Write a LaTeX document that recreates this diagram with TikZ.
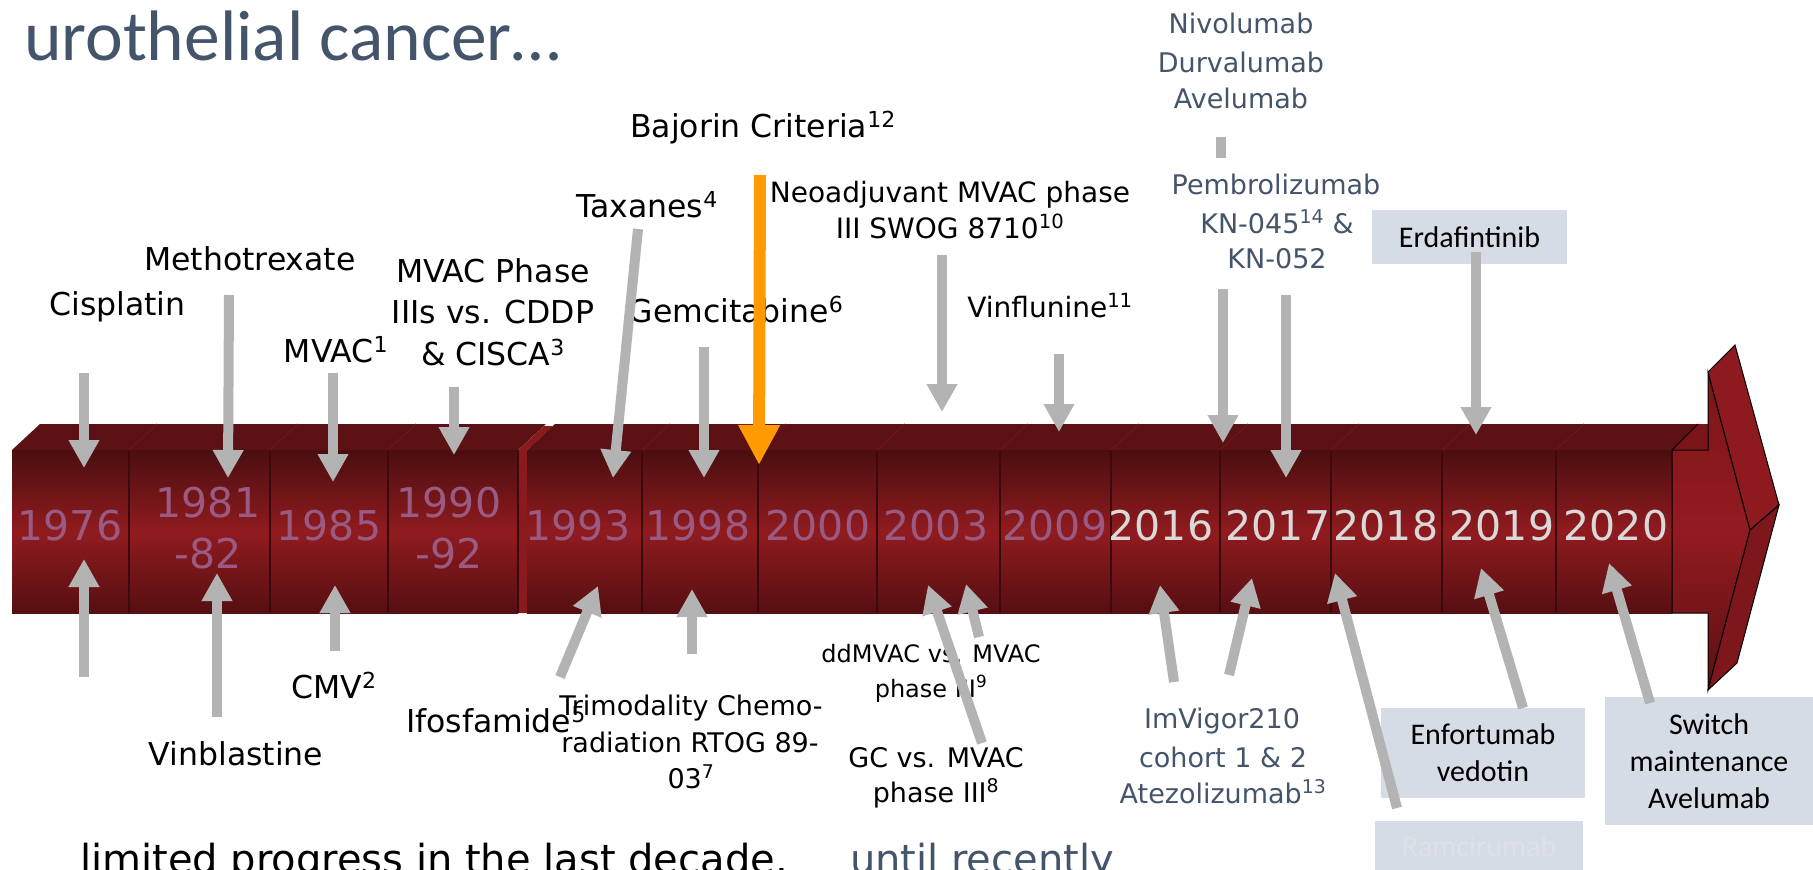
\documentclass[tikz,border=0pt]{standalone}
\usepackage{fontspec}
\setmainfont{DejaVu Sans}
\newfontfamily\carl{Carlito}
\usetikzlibrary{arrows.meta}
\definecolor{agrey}{HTML}{B3B3B3}
\definecolor{orng}{HTML}{FF9A00}
\definecolor{slate}{HTML}{44546A}
\definecolor{boxc}{HTML}{D6DCE5}
\definecolor{ramc}{HTML}{DEE1E6}
\definecolor{yearp}{HTML}{9A5A82}
\definecolor{yearl}{HTML}{D9D9D9}
\definecolor{bD}{HTML}{4A0E10}
\definecolor{bD2}{HTML}{560F12}
\definecolor{bM}{HTML}{901B1F}
\definecolor{bT}{HTML}{5C1214}
\definecolor{bR}{HTML}{8A1A1E}
\definecolor{divc}{HTML}{3A0A0C}
\definecolor{topdiv}{HTML}{6E1518}
\definecolor{hT}{HTML}{7A1619}
\definecolor{hM}{HTML}{931B20}
\definecolor{hB}{HTML}{5A1013}
\definecolor{bevA}{HTML}{8E1A1F}
\definecolor{bevB}{HTML}{7E171B}
\begin{document}
\begin{tikzpicture}[x=1pt,y=-1pt,
  every node/.style={inner sep=0pt,outer sep=0pt},
  lb/.style={anchor=base,font=\fontsize{31.5}{38}\selectfont,text=black},
  lbm/.style={anchor=base,font=\fontsize{28}{34}\selectfont,text=black},
  lbs/.style={anchor=base,font=\fontsize{27}{33}\selectfont,text=black},
  lbt/.style={anchor=base,font=\fontsize{24}{30}\selectfont,text=black},
  bl/.style={anchor=base,font=\fontsize{27}{33}\selectfont,text=slate},
  yr/.style={anchor=base,font=\fontsize{41}{45}\selectfont,text=yearp},
  yrl/.style={yr,text=yearl},
  garrow/.style={draw=agrey,line width=10pt,-{Triangle[width=29pt,length=28pt]}},
  oarrow/.style={draw=orng,line width=12pt,-{Triangle[width=39pt,length=40pt]}},
  boxn/.style={fill=boxc,font=\carl\fontsize{30}{37}\selectfont,align=center,text=black},
  bandfront/.style={top color=bD,bottom color=bD2,middle color=bM}
]
\useasboundingbox (0,0) rectangle (1813,870);

% ---------- timeline band ----------
\shade[bandfront] (12,450) rectangle (518,613);
\fill[bT] (12,450) -- (40,424) -- (546,424) -- (518,450) -- cycle;
\fill[bR] (518,613) -- (518,450) -- (544,426) -- (553,426) -- (527,450) -- (527,613) -- cycle;
\shade[bandfront] (527,450) rectangle (1672,613);
\fill[bT] (527,450) -- (555,424) -- (1708,424) -- (1708,450) -- (1672,450) -- cycle;
\foreach \x in {129,270,388,642,758,877,1000,1111,1220,1331,1442,1556}{
  \draw[divc,line width=1.5pt] (\x,450) -- (\x,613);
  \draw[topdiv,line width=1.2pt] (\x,450) -- (\x+28,424);
}
\draw[divc,line width=1.5pt] (518,450) -- (518,613);
% arrow head of the timeline
\fill[hT] (1672,450) -- (1698,424) -- (1708,424) -- (1708,450) -- cycle;
\draw[black,line width=1pt] (1672,450) -- (1698,424);
\shade[top color=hT,bottom color=hB,middle color=hM]
  (1708,372) -- (1708,450) -- (1672,450) -- (1672,613) -- (1708,613) -- (1708,690) -- (1750,530) -- cycle;
\draw[black,line width=1pt]
  (1708,372) -- (1708,450) -- (1672,450) -- (1672,613) -- (1708,613) -- (1708,690) -- (1750,530) -- cycle;
\filldraw[fill=bevA,draw=black,line width=1pt] (1708,372) -- (1735,345) -- (1779,505) -- (1750,530) -- cycle;
\filldraw[fill=bevB,draw=black,line width=1pt] (1750,530) -- (1779,505) -- (1737,663) -- (1708,690) -- cycle;

% ---------- years ----------
\node[yr] (y1976) at (70,540) {1976};
\node[yr] (y1981a) at (208,517) {1981};
\node[yr] (y1981b) at (208,568) {-82};
\node[yr] (y1985) at (329,540) {1985};
\node[yr] (y1990a) at (449,517) {1990};
\node[yr] (y1990b) at (449,568) {-92};
\node[yr] (y1993) at (578,540) {1993};
\node[yr] (y1998) at (698,540) {1998};
\node[yr] (y2000) at (818,540) {2000};
\node[yr] (y2003) at (936,540) {2003};
\node[yr] (y2009) at (1055,540) {2009};
\node[yrl] (y2016) at (1161,540) {2016};
\node[yrl] (y2017) at (1278,540) {2017};
\node[yrl] (y2018) at (1386,540) {2018};
\node[yrl] (y2019) at (1502,540) {2019};
\node[yrl] (y2020) at (1616,540) {2020};

% ---------- title and footer ----------
\node[anchor=base west,font=\carl\fontsize{71.5}{84}\selectfont,text=slate] (title) at (24,60) {urothelial cancer…};
\node[anchor=base west,font=\fontsize{40}{48}\selectfont,text=black] (lim) at (80,873) {limited progress in the last decade.};
\node[anchor=base west,font=\fontsize{40}{48}\selectfont,text=slate] (unt) at (850,873) {until recently};

% ---------- labels above ----------
\node[lb] (cis) at (117.5,315) {Cisplatin};
\node[lb] (meth) at (250,270) {Methotrexate};
\node[lb] (mvac) at (336,362) {MVAC\textsuperscript{1}};
\node[lb] (mvp1) at (493,282) {MVAC Phase};
\node[lb] (mvp2) at (493,323) {IIIs vs. CDDP};
\node[lb] (mvp3) at (493,365) {\& CISCA\textsuperscript{3}};
\node[lb] (tax) at (647,217) {Taxanes\textsuperscript{4}};
\node[lb] (gem) at (736,322) {Gemcitabine\textsuperscript{6}};
\node[lb] (baj) at (763,137) {Bajorin Criteria\textsuperscript{12}};
\node[lbm] (neo1) at (950,202) {Neoadjuvant MVAC phase};
\node[lbm] (neo2) at (950,238) {III SWOG 8710\textsuperscript{10}};
\node[lbm] (vinf) at (1050,317) {Vinflunine\textsuperscript{11}};
\node[bl] (niv1) at (1241,33) {Nivolumab};
\node[bl] (niv2) at (1241,72) {Durvalumab};
\node[bl] (niv3) at (1241,108) {Avelumab};
\node[bl] (pem1) at (1276,194) {Pembrolizumab};
\node[bl] (pem2) at (1277,233) {KN-045\textsuperscript{14} \&};
\node[bl] (pem3) at (1277,268) {KN-052};
\node[boxn,minimum width=195pt,minimum height=54pt] (erda) at (1469.5,237) {Erdafintinib};

% ---------- labels below ----------
\node[lb] (cmv) at (334,698) {CMV\textsuperscript{2}};
\node[lb] (vinb) at (236,765) {Vinblastine};
\node[lbs] (tri1) at (691,715) {Trimodality Chemo-};
\node[lbs] (tri2) at (690,752) {radiation RTOG 89-};
\node[lbs] (tri3) at (691,788) {03\textsuperscript{7}};
\node[lb,anchor=base west] (ifo) at (406,732) {Ifosfamide\textsuperscript{5}};
\node[lbt] (dd1) at (931,662) {ddMVAC vs. MVAC};
\node[lbt] (dd2) at (931,697) {phase III\textsuperscript{9}};
\node[lbs] (gc1) at (936,767) {GC vs. MVAC};
\node[lbs] (gc2) at (936,802) {phase III\textsuperscript{8}};
\node[bl] (imv1) at (1222,728) {ImVigor210};
\node[bl] (imv2) at (1223,767) {cohort 1 \& 2};
\node[bl] (imv3) at (1223,803) {Atezolizumab\textsuperscript{13}};
\node[boxn,minimum width=204pt,minimum height=90pt] (enf) at (1483,753) {Enfortumab\\vedotin};
\node[boxn,minimum width=208pt,minimum height=128pt] (sw) at (1709,761) {Switch\\maintenance\\Avelumab};
\node[boxn,minimum width=208pt,minimum height=50pt,text=ramc] (ram) at (1479,846) {Ramcirumab};

% ---------- arrow end points ----------
\coordinate (s1) at (84,373);   \coordinate (e1) at (84,468);
\coordinate (s2) at (229,295);  \coordinate (e2) at (228,478);
\coordinate (s3) at (333,373);  \coordinate (e3) at (333,482);
\coordinate (s4) at (454,387);  \coordinate (e4) at (454,455);
\coordinate (s5) at (638,229);  \coordinate (e5) at (613,478);
\coordinate (s6) at (704,347);  \coordinate (e6) at (704,478);
\coordinate (s7) at (760,175);  \coordinate (e7) at (759,465);
\coordinate (s8) at (942,255);  \coordinate (e8) at (942,412);
\coordinate (s9) at (1059,354); \coordinate (e9) at (1059,432);
\coordinate (s10) at (1223,289); \coordinate (e10) at (1223,443);
\coordinate (s11) at (1286,295); \coordinate (e11) at (1286,478);
\coordinate (s12) at (1476,252); \coordinate (e12) at (1476,435);
\coordinate (n1) at (1221,137); \coordinate (n2) at (1221,158);
\coordinate (b1) at (84,677);   \coordinate (f1) at (84,559);
\coordinate (b2) at (217,717);  \coordinate (f2) at (217,573);
\coordinate (b3) at (335,651);  \coordinate (f3) at (335,585);
\coordinate (b4) at (560,677);  \coordinate (f4) at (598,586);
\coordinate (b5) at (692,654);  \coordinate (f5) at (692,589);
\coordinate (b6) at (979,637);  \coordinate (f6) at (966,584);
\coordinate (b7) at (982,743);  \coordinate (f7) at (928,585);
\coordinate (b8) at (1174,682); \coordinate (f8) at (1160,585);
\coordinate (b9) at (1229,675); \coordinate (f9) at (1252,578);
\coordinate (b10) at (1397,808); \coordinate (f10) at (1335,573);
\coordinate (b11) at (1523,708); \coordinate (f11) at (1481,568);
\coordinate (b12) at (1650,703); \coordinate (f12) at (1609,563);

% ---------- arrows ----------
\foreach \i in {1,2,3,4,5,6,8,9,10,11,12}{\draw[garrow] (s\i) -- (e\i);}
\draw[draw=agrey,line width=10pt] (n1) -- (n2);
\foreach \i in {1,...,12}{\draw[garrow] (b\i) -- (f\i);}
\draw[oarrow] (s7) -- (e7);
\end{tikzpicture}
\end{document}
